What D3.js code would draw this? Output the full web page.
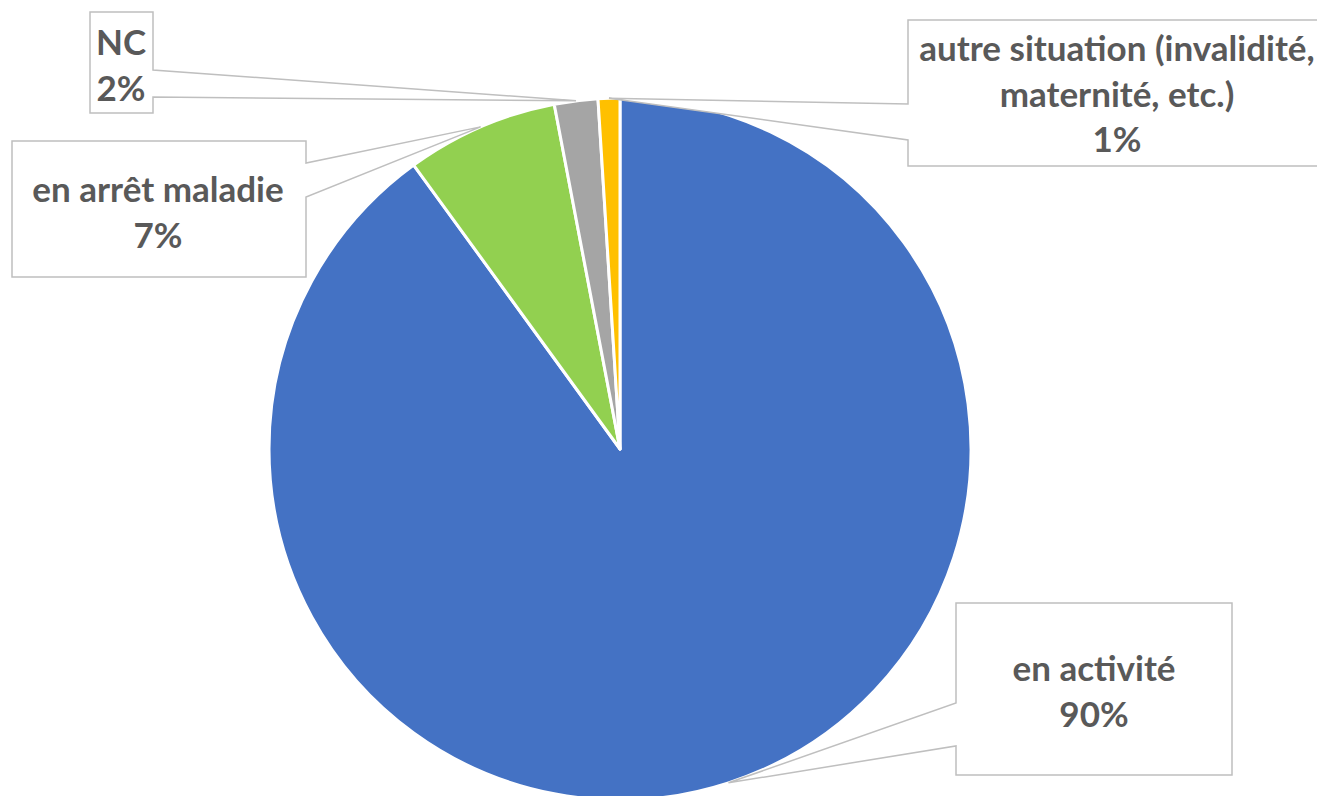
<!DOCTYPE html>
<html>
<head>
<meta charset="utf-8">
<script src="https://cdn.jsdelivr.net/npm/d3@7"></script>
<style>
body { margin: 0; background: #fff; }
.callout path { fill: #fff; stroke: #bfbfbf; stroke-width: 1.5px; }
.callout text { font-family: Lato, "Open Sans", sans-serif; font-weight: bold; fill: #595959; text-anchor: middle; }
</style>
</head>
<body>
<svg width="1317" height="796"></svg>
<script>

// data, clockwise from 12 o'clock
var categories = ["en activité", "en arrêt maladie", "NC", "autre situation (invalidité, maternité, etc.)"];
var values = [90, 7, 2, 1];
var labelLines = [
  ["en activité", "90%"],
  ["en arrêt maladie", "7%"],
  ["NC", "2%"],
  ["autre situation (invalidité,", "maternité, etc.)", "1%"]
];
var colors = ["#4472C4", "#92D050", "#A5A5A5", "#FFC000"];

// callout boxes: x0,y0,x1,y1, which edge the pointer leaves from, pointer base y's, first baseline
var boxes = [
  {x0: 956, y0: 603, x1: 1232, y1: 775, side: "left",  a: 703, b: 746, tx: 1094, ty: 681},
  {x0: 12,  y0: 141, x1: 306,  y1: 277, side: "right", a: 163, b: 197, tx: 158,  ty: 202},
  {x0: 90,  y0: 12,  x1: 153,  y1: 113, side: "right", a: 70,  b: 97,  tx: 121,  ty: 55},
  {x0: 908, y0: 20,  x1: 1325, y1: 166, side: "left",  a: 104, b: 140, tx: 1117, ty: 61}
];

var svg = d3.select("svg"),
    cx = 620, cy = 449, radius = 351,
    lineGap = 45.5;

var pie = d3.pie().sort(null).value(function(d) { return d; });
var arcs = pie(values);

var arc = d3.arc().innerRadius(0).outerRadius(radius);

var g = svg.append("g").attr("transform", "translate(" + cx + "," + cy + ")");

g.selectAll("path")
  .data(arcs)
  .enter().append("path")
    .attr("d", arc)
    .attr("fill", function(d, i) { return colors[i]; })
    .attr("stroke", "#fff")
    .attr("stroke-width", 3)
    .attr("stroke-linejoin", "round");

// callouts point at the middle of each slice's arc
function tipOf(d) {
  var a = (d.startAngle + d.endAngle) / 2;
  return [cx + radius * Math.sin(a), cy - radius * Math.cos(a)];
}

function calloutPath(b, tip) {
  var p = d3.path();
  p.moveTo(b.x0, b.y0);
  p.lineTo(b.x1, b.y0);
  if (b.side == "right") {
    p.lineTo(b.x1, b.a);
    p.lineTo(tip[0], tip[1]);
    p.lineTo(b.x1, b.b);
    p.lineTo(b.x1, b.y1);
    p.lineTo(b.x0, b.y1);
  } else {
    p.lineTo(b.x1, b.y1);
    p.lineTo(b.x0, b.y1);
    p.lineTo(b.x0, b.b);
    p.lineTo(tip[0], tip[1]);
    p.lineTo(b.x0, b.a);
  }
  p.closePath();
  return p.toString();
}

var callout = svg.append("g")
    .attr("class", "callout")
  .selectAll("g")
  .data(arcs)
  .enter().append("g");

callout.append("path")
    .attr("d", function(d, i) { return calloutPath(boxes[i], tipOf(d)); });

callout.each(function(d, i) {
  var b = boxes[i];
  d3.select(this).selectAll("text")
    .data(labelLines[i])
    .enter().append("text")
      .attr("x", b.tx)
      .attr("y", function(t, j) { return b.ty + j * lineGap; })
      .style("font-size", "35px")
      .text(function(t) { return t; });
});

</script>
</body>
</html>
